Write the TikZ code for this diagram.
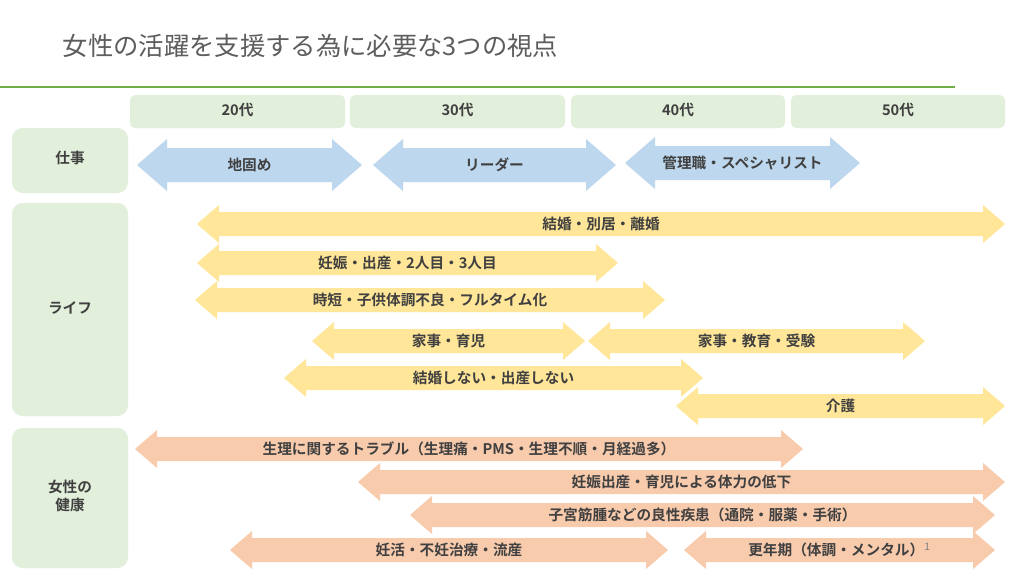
\documentclass[tikz,border=0pt]{standalone}
\usepackage{fontspec}
\setmainfont{Noto Sans CJK JP}
\newfontfamily\jpb{Noto Sans CJK JP Bold}
\definecolor{hdr}{HTML}{E2EFDA}
\definecolor{grn}{HTML}{70AD47}
\definecolor{blu}{HTML}{BDD7EE}
\definecolor{yel}{HTML}{FFE699}
\definecolor{org}{HTML}{F8CBAD}
\definecolor{txt}{HTML}{404040}
% #1 name #2 x1 #3 x2 #4 yc #5 shaft half #6 head half #7 head len #8 color #9 text
\newcommand\darr[9]{%
  \fill[#8] (#2,#4) -- (#2+#7,#4-#6) -- (#2+#7,#4-#5) -- (#3-#7,#4-#5) -- (#3-#7,#4-#6)
    -- (#3,#4) -- (#3-#7,#4+#6) -- (#3-#7,#4+#5) -- (#2+#7,#4+#5) -- (#2+#7,#4+#6) -- cycle;
  \node[lbl] (#1) at ({(#2+#3)/2},#4) {#9};}
\begin{document}
\begin{tikzpicture}[x=0.75pt,y=-0.75pt,
  lbl/.style={font=\jpb\fontsize{11pt}{13pt}\selectfont, text=txt},
  hbox/.style={fill=hdr, rounded corners=4pt, inner sep=0pt}]
\useasboundingbox (0,0) rectangle (1024,576);
\fill[white] (0,0) rectangle (1024,576);
\node[anchor=west, text=txt!85, font=\fontsize{19pt}{22pt}\selectfont] (title) at (58,46) {女性の活躍を支援する為に必要な3つの視点};
\draw[grn, line width=1.5pt] (0,87) -- (955,87);
\foreach \a/\b/\t [count=\i] in {130/345/20代,350/565/30代,571/785/40代,791/1005/50代}{
  \fill[hdr, rounded corners=4pt] (\a,95) rectangle (\b,128);
  \node[lbl] (h\i) at ({(\a+\b)/2},110) {\t};}
\fill[hdr, rounded corners=8pt] (12,128) rectangle (128,193);
\node[lbl] (l1) at (70,158) {仕事};
\fill[hdr, rounded corners=8pt] (12,203) rectangle (128,416);
\node[lbl] (l2) at (70,308) {ライフ};
\fill[hdr, rounded corners=8pt] (12,428) rectangle (128,568);
\node[lbl, align=center] (l3) at (70,496) {女性の\\健康};
\darr{b1}{137}{362}{165}{17}{26}{30}{blu}{地固め}
\darr{b2}{373}{616}{165}{17}{26}{30}{blu}{リーダー}
\darr{b3}{625}{860}{163}{17}{26}{30}{blu}{管理職・スペシャリスト}
\darr{y1}{197}{1005}{224}{12}{19}{22}{yel}{結婚・別居・離婚}
\darr{y2}{197}{618}{263}{12}{19}{22}{yel}{妊娠・出産・2人目・3人目}
\darr{y3}{195}{665}{300}{12}{19}{22}{yel}{時短・子供体調不良・フルタイム化}
\darr{y4}{312}{585}{341}{12}{19}{22}{yel}{家事・育児}
\darr{y5}{588}{925}{341}{12}{19}{22}{yel}{家事・教育・受験}
\darr{y6}{284}{703}{378}{12}{19}{22}{yel}{結婚しない・出産しない}
\darr{y7}{676}{1005}{406}{12}{19}{22}{yel}{介護}
\darr{o1}{135}{803}{449}{12}{19}{22}{org}{生理に関するトラブル（生理痛・PMS・生理不順・月経過多）}
\darr{o2}{358}{1005}{482}{12}{19}{22}{org}{妊娠出産・育児による体力の低下}
\darr{o3}{410}{995}{515}{12}{19}{22}{org}{子宮筋腫などの良性疾患（通院・服薬・手術）}
\darr{o4}{230}{668}{550}{12}{19}{22}{org}{妊活・不妊治療・流産}
\darr{o5}{684}{995}{550}{12}{19}{22}{org}{更年期（体調・メンタル）\textsuperscript{\normalfont\color{gray}1}}
\end{tikzpicture}
\end{document}
